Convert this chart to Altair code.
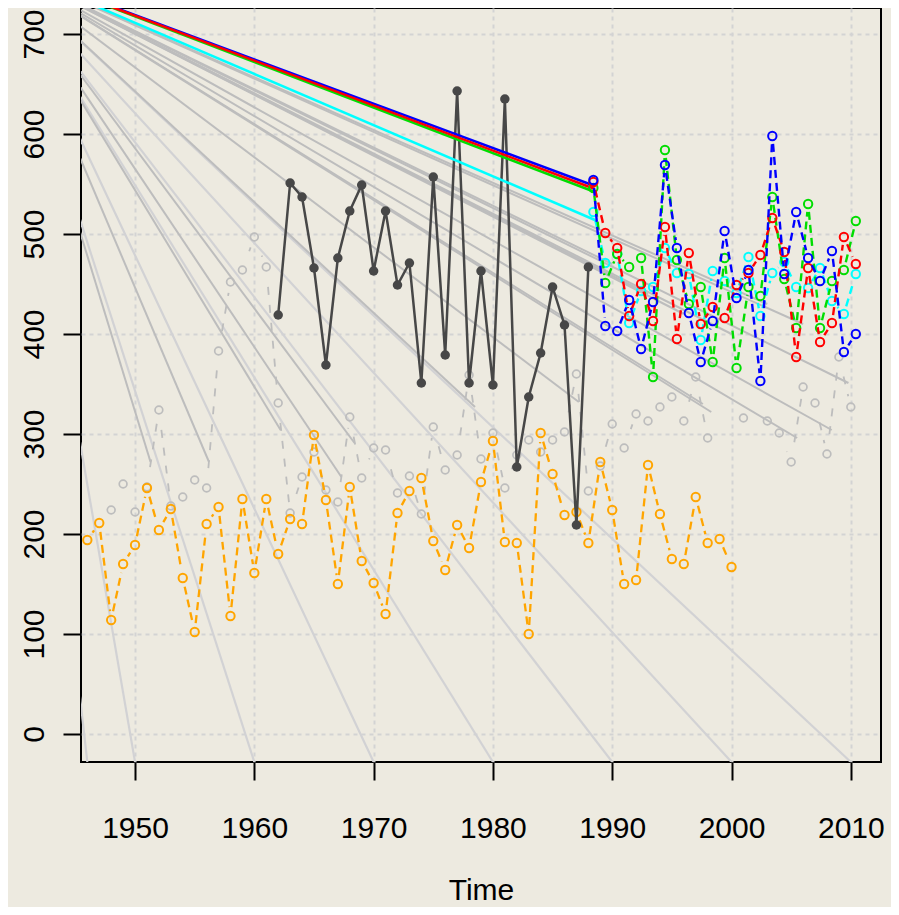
import math
import altair as alt
import pandas as pd

# ---------------- data ----------------
orange_years = list(range(1946, 2001))
orange_vals = [194, 211, 114, 170, 189, 246, 204, 225, 156, 102,
               210, 227, 118, 235, 161, 235, 180, 215, 210, 299,
               234, 150, 247, 173, 151, 120, 221, 243, 256, 193,
               164, 209, 186, 252, 293, 192, 191, 100, 301, 260,
               219, 222, 191, 272, 224, 150, 154, 269, 220, 175,
               170, 237, 191, 195, 167]

dark_years = list(range(1962, 1989))
dark_vals = [419, 551, 537, 466, 369, 476, 523, 549, 463, 523,
             449, 471, 351, 557, 379, 643, 351, 463, 349, 635,
             267, 337, 381, 447, 409, 209, 467]

gray_years = list(range(1948, 2011))
gray_vals = [224, 250, 222, 247, 324, 228, 237, 254, 246, 383,
             452, 464, 497, 467, 331, 221, 257, 282, 244, 232,
             317, 256, 286, 284, 241, 258, 220, 307, 264, 279,
             359, 275, 301, 246, 279, 294, 282, 294, 302, 360,
             243, 268, 310, 286, 320, 313, 327, 337, 313, 357,
             296, None, None, 316, None, 313, 301, 272, 347, 331,
             280, 377, 327]

fc_years = [1988.42 + i for i in range(23)]
red_vals = [552, 501, 486, 418, 450, 413, 507, 395, 481, 410, 427, 416,
            449, 461, 479, 516, 482, 377, 466, 392, 411, 497, 470]
blue_vals = [554, 408, 403, 434, 385, 432, 569, 486, 421, 372, 413, 503,
             436, 464, 353, 598, 460, 522, 476, 453, 483, 382, 400]
green_vals = [546, 451, 480, 467, 476, 357, 584, 474, 430, 447, 372, 476,
              366, 447, 438, 537, 455, 406, 530, 406, 453, 464, 513]
cyan_vals = [522, 471, 480, 411, 443, 447, 486, 461, 460, 394, 463, 453,
             441, 477, 418, 461, 472, 447, 446, 466, 433, 420, 460]

# common far-away origin of the straight lines
origin_x, origin_y = 1938.5, 770
# colored straight lines end points
ray_end_x = 1988.55
ray_names = ["blue", "green", "red", "cyan"]
ray_end_vals = [548, 542, 545, 514]
ray_colors = ["#0000FF", "#00DD00", "#FF0000", "#00FFFF"]

# gray fan lines: end points
fan_low_x = [1946, 1950, 1960, 1970, 1980, 1990, 2000, 2010]
fan_low_y = [-28, -28, -28, -28, -28, -28, -28, -28]
fan_mid_x = [1951.3, 1956.2, 1962.2, 1967.3, 1968.4, 1978.5, 1987.2,
             1997.6, 1998.3, 2005.5, 2008.4, 2009.8,
             1990.0, 1993.0, 1996.0, 2000.0, 2003.0, 2006.0]
fan_mid_y = [272, 272, 304, 257, 291, 327, 332,
             330, 322, 296, 304, 351,
             470, 440, 420, 400, 430, 410]

# ---------------- geometry helpers ----------------
X0, X1 = 1945.47, 2012.53
Y0, Y1 = -28.0, 726.0
W, H = 800, 754
SX = W / (X1 - X0)
SY = H / (Y1 - Y0)


def gapped(xs, ys, g):
    rows = []
    for i in range(len(xs) - 1):
        a, b = ys[i], ys[i + 1]
        if a is None or b is None:
            continue
        dx = (xs[i + 1] - xs[i]) * SX
        dy = (b - a) * SY
        L = math.hypot(dx, dy)
        if L <= 2 * g:
            continue
        ux, uy = dx / L, dy / L
        rows.append(dict(x=xs[i] + ux * g / SX, y=a + uy * g / SY,
                         x2=xs[i + 1] - ux * g / SX, y2=b - uy * g / SY))
    return pd.DataFrame(rows)


def pts(xs, ys):
    return pd.DataFrame([dict(x=x, y=y) for x, y in zip(xs, ys) if y is not None])


FONT = "Liberation Sans"
xscale = alt.Scale(domain=[X0, X1], nice=False, zero=False)
yscale = alt.Scale(domain=[Y0, Y1], nice=False, zero=False)
xaxis = alt.Axis(values=[1950, 1960, 1970, 1980, 1990, 2000, 2010], format="d",
                 title="Time", grid=True, gridColor="#D3D3D3", gridDash=[4, 4],
                 gridWidth=2, tickSize=18, tickWidth=2, tickColor="black",
                 domain=False, labelFont=FONT, labelFontSize=30, labelColor="black",
                 labelPadding=57, labelBaseline="alphabetic", labelFlush=False,
                 labelOverlap=False, titleFont=FONT, titleFontSize=30,
                 titleFontWeight="normal", titleColor="black", titleY=137,
                 titleBaseline="alphabetic")
yaxis = alt.Axis(values=[0, 100, 200, 300, 400, 500, 600, 700], title=None,
                 grid=True, gridColor="#D3D3D3", gridDash=[4, 4], gridWidth=2,
                 tickSize=18, tickWidth=2, tickColor="black", domain=False,
                 labelFont=FONT, labelFontSize=30, labelColor="black",
                 labelAngle=270, labelAlign="center", labelBaseline="alphabetic",
                 labelPadding=20, labelFlush=False, labelOverlap=False)


def X(f="x"):
    return alt.X(f + ":Q", scale=xscale, axis=xaxis)


def Y(f="y"):
    return alt.Y(f + ":Q", scale=yscale, axis=yaxis)


def seg_layer(df, color, width, dash=None, offset=None):
    kw = dict(color=color, strokeWidth=width, clip=True)
    if dash:
        kw["strokeDash"] = dash
    if offset:
        kw["strokeDashOffset"] = offset
    return alt.Chart(df).mark_rule(**kw).encode(
        x=X(), y=Y(), x2="x2:Q", y2="y2:Q")


def pt_layer(df, color, size=70, filled=False, sw=2.0):
    if filled:
        m = alt.Chart(df).mark_circle(color=color, size=size, opacity=1, clip=True)
    else:
        m = alt.Chart(df).mark_point(shape="circle", filled=False, color=color,
                                     size=size, strokeWidth=sw, opacity=1, clip=True)
    return m.encode(x=X(), y=Y())


layers = []
# fan lines
fan_low = pd.DataFrame(dict(x=[origin_x] * len(fan_low_x), y=[origin_y] * len(fan_low_x),
                            x2=fan_low_x, y2=fan_low_y))
fan_mid = pd.DataFrame(dict(x=[origin_x] * len(fan_mid_x), y=[origin_y] * len(fan_mid_x),
                            x2=fan_mid_x, y2=fan_mid_y))
layers.append(seg_layer(fan_low, "#D2D2D4", 2.2))
layers.append(seg_layer(fan_mid, "#BDBDBD", 2.0))

# gray background series
layers.append(seg_layer(gapped(gray_years, gray_vals, 11), "#BDBDBD", 1.8, [8, 10], 9))
layers.append(pt_layer(pts(gray_years, gray_vals), "#BDBDBD", 60, sw=1.7))

# orange series
layers.append(seg_layer(gapped(orange_years, orange_vals, 9), "#FFA500", 2.3, [8, 5]))
layers.append(pt_layer(pts(orange_years, orange_vals), "#FFA500"))

# dark series
dark_df = pts(dark_years, dark_vals)
layers.append(alt.Chart(dark_df).mark_line(color="#474747", strokeWidth=2.5, clip=True)
              .encode(x=X(), y=Y()))
layers.append(pt_layer(dark_df, "#474747", 90, filled=True))

# colored rays
for name, v, c in zip(ray_names, ray_end_vals, ray_colors):
    df = pd.DataFrame(dict(x=[origin_x], y=[origin_y], x2=[ray_end_x], y2=[v]))
    layers.append(seg_layer(df, c, 2.5))

# colored forecast series
for vals, c in [(cyan_vals, "#00FFFF"), (green_vals, "#00DD00"),
                (red_vals, "#FF0000"), (blue_vals, "#0000FF")]:
    layers.append(seg_layer(gapped(fc_years, vals, 8), c, 2.4, [8, 5]))
    layers.append(pt_layer(pts(fc_years, vals), c))

chart = alt.layer(*layers).properties(
    width=W, height=H, autosize="none",
    padding={"left": 73, "top": 0, "right": 10, "bottom": 145},
    background="#EDEAE0",
).configure_view(stroke="black", strokeWidth=2)

chart.save("out.html", embed_options={"renderer": "svg", "actions": False})
